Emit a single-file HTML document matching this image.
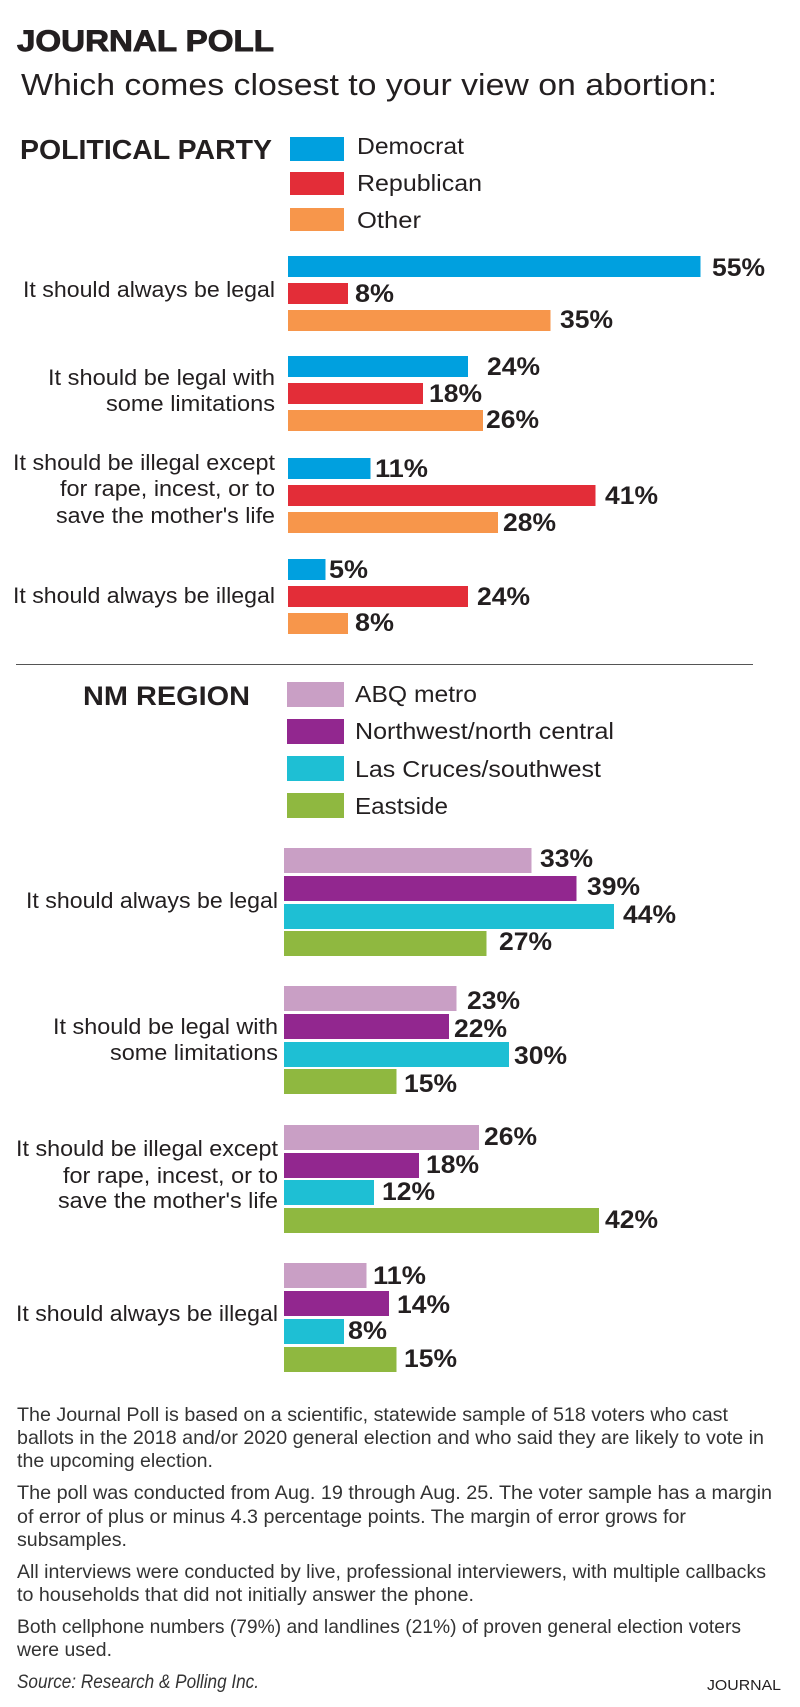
<!DOCTYPE html>
<html>
<head>
<meta charset="utf-8">
<style>
html,body{margin:0;padding:0;background:#fff;}
svg{display:block;}
text{font-family:"Liberation Sans",Arial,sans-serif;fill:#231f20;}
.b{font-weight:bold;}
.v{font-weight:bold;font-size:25px;}
.r{font-size:22.5px;}
.lg{font-size:23px;}
.f{font-size:19.5px;fill:#333;}
</style>
</head>
<body>
<svg width="800" height="1707" viewBox="0 0 800 1707" xmlns="http://www.w3.org/2000/svg">
<rect x="0" y="0" width="800" height="1707" fill="#fff"/>

<!-- Header -->
<text x="17" y="51" class="b" font-size="30" stroke="#231f20" stroke-width="0.9" textLength="257" lengthAdjust="spacingAndGlyphs">JOURNAL POLL</text>
<text x="21" y="95" font-size="31" textLength="696" lengthAdjust="spacingAndGlyphs">Which comes closest to your view on abortion:</text>

<!-- Political party legend -->
<text x="20" y="159" class="b" font-size="28" textLength="252" lengthAdjust="spacingAndGlyphs">POLITICAL PARTY</text>
<rect x="290" y="137" width="54" height="24" fill="#00a0df"/>
<rect x="290" y="172" width="54" height="23" fill="#e32d38"/>
<rect x="290" y="208" width="54" height="23" fill="#f7964b"/>
<text x="357" y="154" class="lg" textLength="107" lengthAdjust="spacingAndGlyphs">Democrat</text>
<text x="357" y="191" class="lg" textLength="125" lengthAdjust="spacingAndGlyphs">Republican</text>
<text x="357" y="228" class="lg" textLength="64" lengthAdjust="spacingAndGlyphs">Other</text>

<!-- Party row 1 -->
<text x="275" y="297" class="r" text-anchor="end" textLength="252" lengthAdjust="spacingAndGlyphs">It should always be legal</text>
<rect x="288" y="256" width="412.5" height="21" fill="#00a0df"/>
<rect x="288" y="283" width="60" height="21" fill="#e32d38"/>
<rect x="288" y="310" width="262.5" height="21" fill="#f7964b"/>
<text x="712" y="276" class="v" textLength="53" lengthAdjust="spacingAndGlyphs">55%</text>
<text x="355" y="302" class="v" textLength="39" lengthAdjust="spacingAndGlyphs">8%</text>
<text x="560" y="328" class="v" textLength="53" lengthAdjust="spacingAndGlyphs">35%</text>

<!-- Party row 2 -->
<text x="275" y="385" class="r" text-anchor="end" textLength="227" lengthAdjust="spacingAndGlyphs">It should be legal with</text>
<text x="275" y="411" class="r" text-anchor="end" textLength="169" lengthAdjust="spacingAndGlyphs">some limitations</text>
<rect x="288" y="356" width="180" height="21" fill="#00a0df"/>
<rect x="288" y="383" width="135" height="21" fill="#e32d38"/>
<rect x="288" y="410" width="195" height="21" fill="#f7964b"/>
<text x="487" y="375" class="v" textLength="53" lengthAdjust="spacingAndGlyphs">24%</text>
<text x="429" y="402" class="v" textLength="53" lengthAdjust="spacingAndGlyphs">18%</text>
<text x="486" y="428" class="v" textLength="53" lengthAdjust="spacingAndGlyphs">26%</text>

<!-- Party row 3 -->
<text x="275" y="470" class="r" text-anchor="end" textLength="262" lengthAdjust="spacingAndGlyphs">It should be illegal except</text>
<text x="275" y="496" class="r" text-anchor="end" textLength="215" lengthAdjust="spacingAndGlyphs">for rape, incest, or to</text>
<text x="275" y="523" class="r" text-anchor="end" textLength="219" lengthAdjust="spacingAndGlyphs">save the mother's life</text>
<rect x="288" y="458" width="82.5" height="21" fill="#00a0df"/>
<rect x="288" y="485" width="307.5" height="21" fill="#e32d38"/>
<rect x="288" y="512" width="210" height="21" fill="#f7964b"/>
<text x="375" y="477" class="v" textLength="53" lengthAdjust="spacingAndGlyphs">11%</text>
<text x="605" y="504" class="v" textLength="53" lengthAdjust="spacingAndGlyphs">41%</text>
<text x="503" y="531" class="v" textLength="53" lengthAdjust="spacingAndGlyphs">28%</text>

<!-- Party row 4 -->
<text x="275" y="603" class="r" text-anchor="end" textLength="262" lengthAdjust="spacingAndGlyphs">It should always be illegal</text>
<rect x="288" y="559" width="37.5" height="21" fill="#00a0df"/>
<rect x="288" y="586" width="180" height="21" fill="#e32d38"/>
<rect x="288" y="613" width="60" height="21" fill="#f7964b"/>
<text x="329" y="578" class="v" textLength="39" lengthAdjust="spacingAndGlyphs">5%</text>
<text x="477" y="605" class="v" textLength="53" lengthAdjust="spacingAndGlyphs">24%</text>
<text x="355" y="631" class="v" textLength="39" lengthAdjust="spacingAndGlyphs">8%</text>

<!-- Divider -->
<line x1="16" y1="664.5" x2="753" y2="664.5" stroke="#555" stroke-width="1"/>

<!-- Region legend -->
<text x="83" y="705" class="b" font-size="27" textLength="167" lengthAdjust="spacingAndGlyphs">NM REGION</text>
<rect x="287" y="682" width="57" height="25" fill="#c99fc5"/>
<rect x="287" y="719" width="57" height="25" fill="#92278f"/>
<rect x="287" y="756" width="57" height="25" fill="#1ebfd4"/>
<rect x="287" y="793" width="57" height="25" fill="#8fb840"/>
<text x="355" y="702" class="lg" textLength="122" lengthAdjust="spacingAndGlyphs">ABQ metro</text>
<text x="355" y="739" class="lg" textLength="259" lengthAdjust="spacingAndGlyphs">Northwest/north central</text>
<text x="355" y="777" class="lg" textLength="246" lengthAdjust="spacingAndGlyphs">Las Cruces/southwest</text>
<text x="355" y="814" class="lg" textLength="93" lengthAdjust="spacingAndGlyphs">Eastside</text>

<!-- Region row 1 -->
<text x="278" y="908" class="r" text-anchor="end" textLength="252" lengthAdjust="spacingAndGlyphs">It should always be legal</text>
<rect x="284" y="848" width="247.5" height="25" fill="#c99fc5"/>
<rect x="284" y="876" width="292.5" height="25" fill="#92278f"/>
<rect x="284" y="904" width="330" height="25" fill="#1ebfd4"/>
<rect x="284" y="931" width="202.5" height="25" fill="#8fb840"/>
<text x="540" y="867" class="v" textLength="53" lengthAdjust="spacingAndGlyphs">33%</text>
<text x="587" y="895" class="v" textLength="53" lengthAdjust="spacingAndGlyphs">39%</text>
<text x="623" y="923" class="v" textLength="53" lengthAdjust="spacingAndGlyphs">44%</text>
<text x="499" y="950" class="v" textLength="53" lengthAdjust="spacingAndGlyphs">27%</text>

<!-- Region row 2 -->
<text x="278" y="1034" class="r" text-anchor="end" textLength="225" lengthAdjust="spacingAndGlyphs">It should be legal with</text>
<text x="278" y="1060" class="r" text-anchor="end" textLength="168" lengthAdjust="spacingAndGlyphs">some limitations</text>
<rect x="284" y="986" width="172.5" height="25" fill="#c99fc5"/>
<rect x="284" y="1014" width="165" height="25" fill="#92278f"/>
<rect x="284" y="1042" width="225" height="25" fill="#1ebfd4"/>
<rect x="284" y="1069" width="112.5" height="25" fill="#8fb840"/>
<text x="467" y="1009" class="v" textLength="53" lengthAdjust="spacingAndGlyphs">23%</text>
<text x="454" y="1037" class="v" textLength="53" lengthAdjust="spacingAndGlyphs">22%</text>
<text x="514" y="1064" class="v" textLength="53" lengthAdjust="spacingAndGlyphs">30%</text>
<text x="404" y="1092" class="v" textLength="53" lengthAdjust="spacingAndGlyphs">15%</text>

<!-- Region row 3 -->
<text x="278" y="1156" class="r" text-anchor="end" textLength="262" lengthAdjust="spacingAndGlyphs">It should be illegal except</text>
<text x="278" y="1183" class="r" text-anchor="end" textLength="215" lengthAdjust="spacingAndGlyphs">for rape, incest, or to</text>
<text x="278" y="1208" class="r" text-anchor="end" textLength="220" lengthAdjust="spacingAndGlyphs">save the mother's life</text>
<rect x="284" y="1125" width="195" height="25" fill="#c99fc5"/>
<rect x="284" y="1153" width="135" height="25" fill="#92278f"/>
<rect x="284" y="1180" width="90" height="25" fill="#1ebfd4"/>
<rect x="284" y="1208" width="315" height="25" fill="#8fb840"/>
<text x="484" y="1145" class="v" textLength="53" lengthAdjust="spacingAndGlyphs">26%</text>
<text x="426" y="1173" class="v" textLength="53" lengthAdjust="spacingAndGlyphs">18%</text>
<text x="382" y="1200" class="v" textLength="53" lengthAdjust="spacingAndGlyphs">12%</text>
<text x="605" y="1228" class="v" textLength="53" lengthAdjust="spacingAndGlyphs">42%</text>

<!-- Region row 4 -->
<text x="278" y="1321" class="r" text-anchor="end" textLength="262" lengthAdjust="spacingAndGlyphs">It should always be illegal</text>
<rect x="284" y="1263" width="82.5" height="25" fill="#c99fc5"/>
<rect x="284" y="1291" width="105" height="25" fill="#92278f"/>
<rect x="284" y="1319" width="60" height="25" fill="#1ebfd4"/>
<rect x="284" y="1347" width="112.5" height="25" fill="#8fb840"/>
<text x="373" y="1284" class="v" textLength="53" lengthAdjust="spacingAndGlyphs">11%</text>
<text x="397" y="1313" class="v" textLength="53" lengthAdjust="spacingAndGlyphs">14%</text>
<text x="348" y="1339" class="v" textLength="39" lengthAdjust="spacingAndGlyphs">8%</text>
<text x="404" y="1367" class="v" textLength="53" lengthAdjust="spacingAndGlyphs">15%</text>

<!-- Footnotes -->
<text x="17" y="1421" class="f" textLength="711" lengthAdjust="spacingAndGlyphs">The Journal Poll is based on a scientific, statewide sample of 518 voters who cast</text>
<text x="17" y="1444" class="f" textLength="747" lengthAdjust="spacingAndGlyphs">ballots in the 2018 and/or 2020 general election and who said they are likely to vote in</text>
<text x="17" y="1467" class="f" textLength="196" lengthAdjust="spacingAndGlyphs">the upcoming election.</text>

<text x="17" y="1499" class="f" textLength="755" lengthAdjust="spacingAndGlyphs">The poll was conducted from Aug. 19 through Aug. 25. The voter sample has a margin</text>
<text x="17" y="1523" class="f" textLength="669" lengthAdjust="spacingAndGlyphs">of error of plus or minus 4.3 percentage points. The margin of error grows for</text>
<text x="17" y="1546" class="f" textLength="110" lengthAdjust="spacingAndGlyphs">subsamples.</text>

<text x="17" y="1578" class="f" textLength="749" lengthAdjust="spacingAndGlyphs">All interviews were conducted by live, professional interviewers, with multiple callbacks</text>
<text x="17" y="1601" class="f" textLength="457" lengthAdjust="spacingAndGlyphs">to households that did not initially answer the phone.</text>

<text x="17" y="1633" class="f" textLength="724" lengthAdjust="spacingAndGlyphs">Both cellphone numbers (79%) and landlines (21%) of proven general election voters</text>
<text x="17" y="1656" class="f" textLength="95" lengthAdjust="spacingAndGlyphs">were used.</text>

<text x="17" y="1688" class="f" font-style="italic" textLength="242" lengthAdjust="spacingAndGlyphs">Source: Research &amp; Polling Inc.</text>
<text x="707" y="1690" font-size="15" fill="#333" textLength="74" lengthAdjust="spacingAndGlyphs">JOURNAL</text>
</svg>
</body>
</html>
